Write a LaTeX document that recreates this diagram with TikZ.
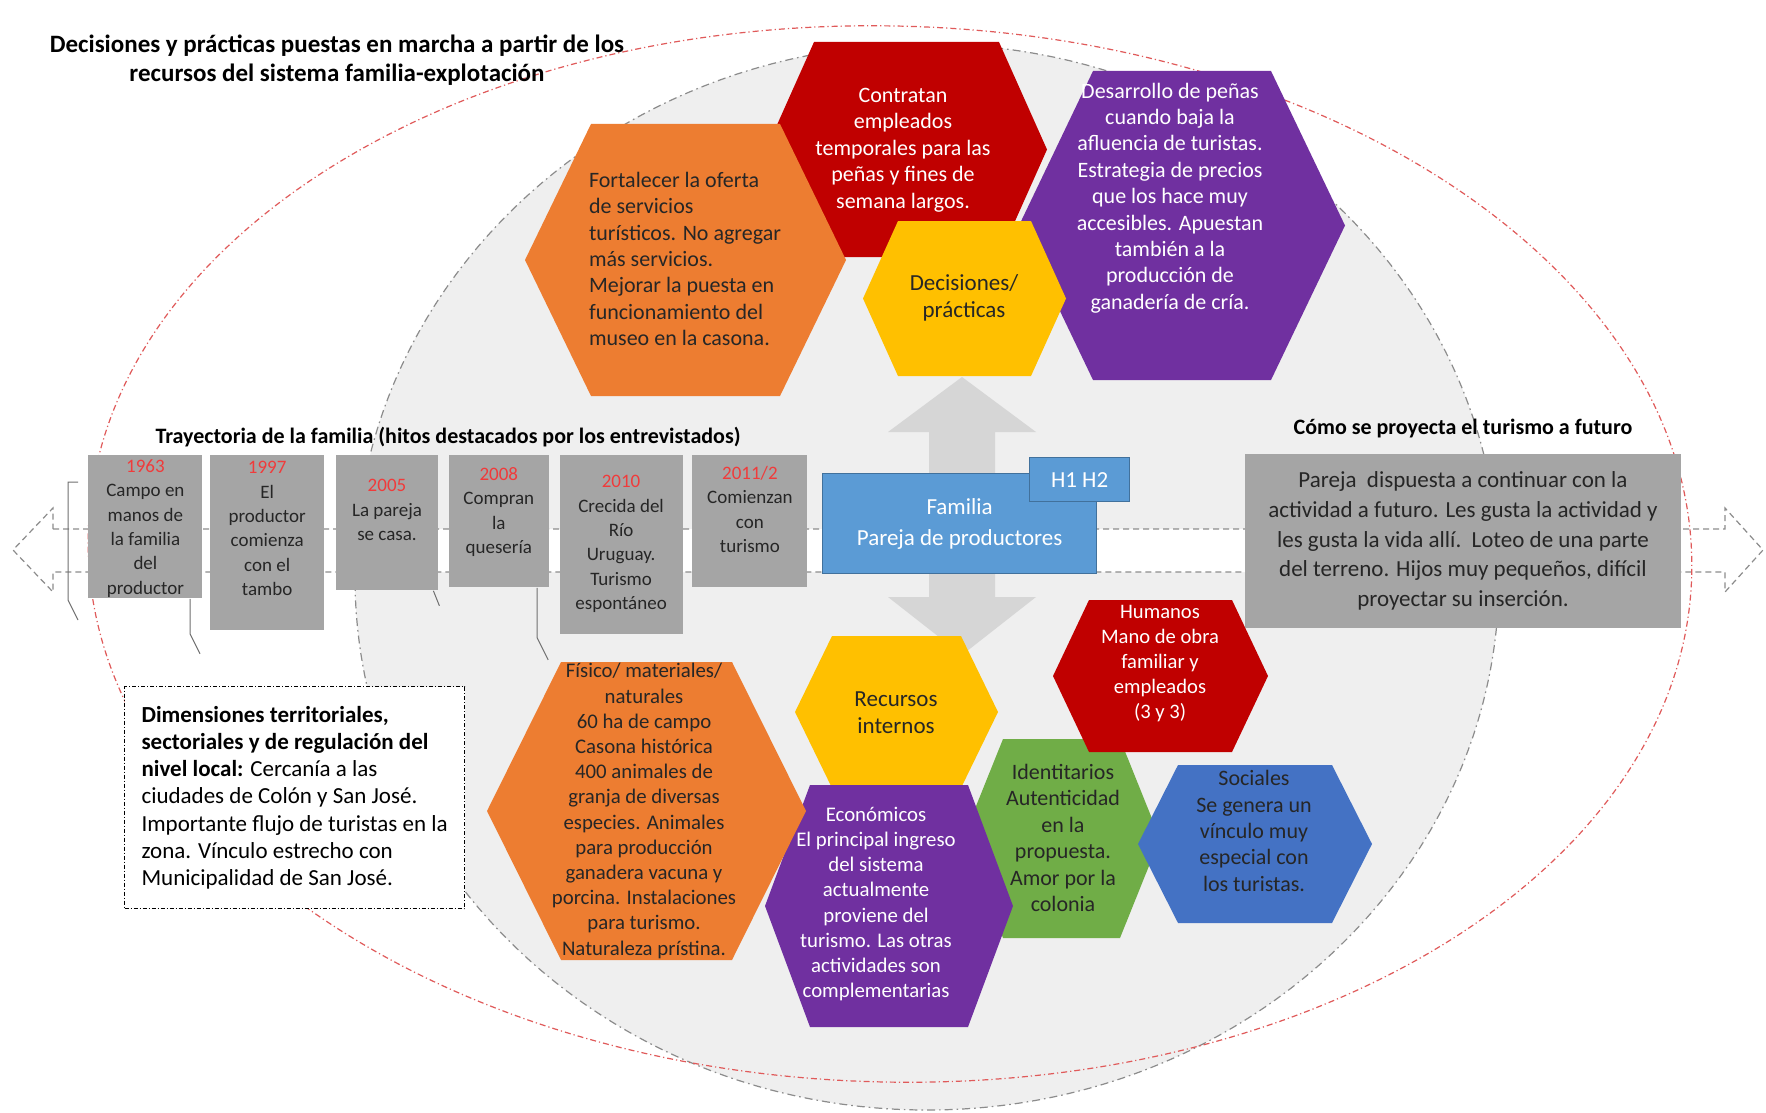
\documentclass[tikz,border=0pt]{standalone}
\usepackage{fontspec}
\setmainfont{Carlito}
\usetikzlibrary{positioning, calc}
\definecolor{cpOrange}{HTML}{ED7D31}
\definecolor{cpRed}{HTML}{C00000}
\definecolor{cpYellow}{HTML}{FFC000}
\definecolor{cpPurple}{HTML}{7030A0}
\definecolor{cpGreen}{HTML}{70AD47}
\definecolor{cpBlue}{HTML}{4472C4}
\definecolor{cpFam}{HTML}{5B9BD5}
\definecolor{cpFamEdge}{HTML}{41719C}
\definecolor{cpBox}{HTML}{A5A5A5}
\definecolor{cpInk}{HTML}{262626}
\definecolor{cpYear}{HTML}{F03B3B}
\definecolor{cpShade}{HTML}{EFEFEF}
\definecolor{cpArrow}{HTML}{D6D6D6}
\definecolor{cpRing}{HTML}{E05A5A}
\definecolor{cpLine}{HTML}{8C8C8C}
\newcommand{\tlyear}[1]{\textcolor{cpYear}{#1}}
% hexagon: centre x, centre y, half width, inset, half height, fill
\newcommand{\hexcell}[6]{%
  \fill[#6] (#1-#3,#2) -- (#1-#3+#4,#2-#5) -- (#1+#3-#4,#2-#5)
    -- (#1+#3,#2) -- (#1+#3-#4,#2+#5) -- (#1-#3+#4,#2+#5) -- cycle;
}
\begin{document}
\begin{tikzpicture}[x=0.5pt, y=-0.5pt,
  hexText/.style={align=center, inner sep=0pt, text=cpInk, font=\fontsize{11}{13.2}\selectfont},
  tlbox/.style={rectangle, fill=cpBox, inner sep=0pt, anchor=north west},
  tltext/.style={align=center, inner sep=0pt, text=cpInk, font=\fontsize{9.5}{12.2}\selectfont},
  famBox/.style={rectangle, fill=cpFam, draw=cpFamEdge, line width=0.6pt, text=white, align=center, anchor=north west, font=\fontsize{11.5}{15.5}\selectfont},
  headText/.style={inner sep=0pt, align=center, font=\bfseries\fontsize{11}{13.5}\selectfont},
  callout/.style={draw=cpLine!80!black, line width=0.5pt},
  ringRed/.style={draw=cpRing, line width=0.6pt, dash pattern=on 3pt off 1.5pt on 0.6pt off 1.5pt},
  ringGray/.style={draw=cpLine, fill=cpShade, line width=0.6pt, dash pattern=on 4pt off 2pt on 0.8pt off 2pt},
  band/.style={draw=cpLine, fill=white, line width=0.6pt, dash pattern=on 3pt off 2pt}
]
\useasboundingbox (0,0) rectangle (1766,1113);
\fill[white] (0,0) rectangle (1766,1113);

% system ellipse and arrows
\path[ringGray] (927,577) ellipse [x radius=286pt, y radius=266.5pt];
\fill[cpArrow] (962,377) -- (1036,432) -- (995,432) -- (995,597) -- (1036,597) -- (962,655)
  -- (888,597) -- (929,597) -- (929,432) -- (888,432) -- cycle;
\path[band] (53,529) -- (1725,529) -- (1725,508) -- (1763,550) -- (1725,592) -- (1725,572)
  -- (53,572) -- (53,592) -- (13,550) -- (53,508) -- cycle;
\draw[ringRed, rotate around={-1.5:(890,554)}] (890,554) ellipse [x radius=401pt, y radius=264pt];

% timeline
\node[tlbox, minimum width=57pt, minimum height=71.5pt] (b1963) at (88,455) {};
\node[tlbox, minimum width=57pt, minimum height=87.5pt, right=3.5pt of b1963.north east, anchor=north west] (b1997) {};
\node[tlbox, minimum width=51pt, minimum height=67.5pt, right=5.5pt of b1997.north east, anchor=north west] (b2005) {};
\node[tlbox, minimum width=50pt, minimum height=66pt, right=5pt of b2005.north east, anchor=north west] (b2008) {};
\node[tlbox, minimum width=61.5pt, minimum height=89.5pt, right=5pt of b2008.north east, anchor=north west] (b2010) {};
\node[tlbox, minimum width=57.5pt, minimum height=66pt, right=4.5pt of b2010.north east, anchor=north west] (b2011) {};

\node[tltext, below=2pt of b1963.north] (t1963) {\tlyear{1963}\\Campo en\\manos de\\la familia\\del\\productor};
\node[tltext, below=3pt of b1997.north] (t1997) {\tlyear{1997}\\El\\productor\\comienza\\con el\\tambo};
\node[tltext, below=12pt of b2005.north] (t2005) {\tlyear{2005}\\La pareja\\se casa.};
\node[tltext, below=6pt of b2008.north] (t2008) {\tlyear{2008}\\Compran\\la\\quesería};
\node[tltext, below=10pt of b2010.north] (t2010) {\tlyear{2010}\\Crecida del\\Río\\Uruguay.\\Turismo\\espontáneo};
\node[tltext, below=5.5pt of b2011.north] (t2011) {\tlyear{2011/2}\\Comienzan\\con\\turismo};

\draw[callout] ($(b1963.north west)+(-10,27)$) -- ++(-10,0) -- ++(0,118) -- ++(10,20);
\draw[callout] ($(b1963.south west)+(102,0)$) -- ++(0,35) -- ++(10,20);
\draw[callout] ($(b2005.south east)+(-5,0)$) -- ++(6,15);
\draw[callout] ($(b2008.south east)+(-12,0)$) -- ++(0,50) -- ++(11,22);

% decisions
\hexcell{906.5}{149.5}{140.5}{48}{107.5}{cpRed}
\hexcell{685.5}{260}{160.5}{66}{136}{cpOrange}
\hexcell{1182}{225.5}{163}{74}{154.5}{cpPurple}
\hexcell{964.5}{298.5}{101.5}{35}{77.5}{cpYellow}

\node[hexText, text=white] (contratan) at (903,150) {Contratan\\empleados\\temporales para las\\peñas y fines de\\semana largos.};
\node[hexText, align=left] (fortalecer) at (685,259) {Fortalecer la oferta\\de servicios\\turísticos. No agregar\\más servicios.\\Mejorar la puesta en\\funcionamiento del\\museo en la casona.};
\node[hexText, text=white] (desarrollo) at (1170,198) {Desarrollo de peñas\\cuando baja la\\afluencia de turistas.\\Estrategia de precios\\que los hace muy\\accesibles. Apuestan\\también a la\\producción de\\ganadería de cría.};
\node[hexText, font=\fontsize{11.5}{13.5}\selectfont] (decisiones) at (964,298) {Decisiones/\\prácticas};

% resources
\hexcell{896.5}{712}{101.5}{37}{76}{cpYellow}
\hexcell{1061.5}{838.5}{98.5}{40}{99.5}{cpGreen}
\hexcell{889}{906}{124}{45}{121}{cpPurple}
\hexcell{646.5}{811}{159.5}{74}{149}{cpOrange}
\hexcell{1160.5}{676}{107.5}{36}{76}{cpRed}
\hexcell{1255}{844}{117}{40}{79}{cpBlue}

\node[hexText, font=\fontsize{11.5}{13.5}\selectfont] (recursos) at (896,713) {Recursos\\internos};
\node[hexText, font=\fontsize{10.4}{12.6}\selectfont] (fisico) at (644,811) {Físico/ materiales/\\naturales\\60 ha de campo\\Casona histórica\\400 animales de\\granja de diversas\\especies. Animales\\para producción\\ganadera vacuna y\\porcina. Instalaciones\\para turismo.\\Naturaleza prístina.};
\node[hexText] (identitarios) at (1063,838) {Identitarios\\Autenticidad\\en la\\propuesta.\\Amor por la\\colonia};
\node[hexText, text=white, font=\fontsize{10.4}{12.6}\selectfont] (economicos) at (876,904) {Económicos\\El principal ingreso\\del sistema\\actualmente\\proviene del\\turismo. Las otras\\actividades son\\complementarias};
\node[hexText, text=white, font=\fontsize{10.3}{12.5}\selectfont] (humanos) at (1160,664) {Humanos\\Mano de obra\\familiar y\\empleados\\(3 y 3)};
\node[hexText] (sociales) at (1254,831) {Sociales\\Se genera un\\vínculo muy\\especial con\\los turistas.};

% family
\node[famBox, minimum width=137pt, minimum height=50pt] (fam) at (822,473) {Familia\\Pareja de productores};
\node[famBox, minimum width=50pt, minimum height=22pt] (hijos) at (1029,457) {H1 H2};

% future and context
\node[rectangle, fill=cpBox, text=cpInk, align=center, minimum width=218pt, minimum height=87pt,
  font=\fontsize{11.5}{14.9}\selectfont] (fut) at (1463,541)
  {Pareja\ \ dispuesta a continuar con la\\actividad a futuro. Les gusta la actividad y\\les gusta la vida allí.\ \ Loteo de una parte\\del terreno. Hijos muy pequeños, difícil\\proyectar su inserción.};
\node[headText] (futTitle) at (1463,429) {Cómo se proyecta el turismo a futuro};
\node[headText] (trayTitle) at (448,437) {Trayectoria de la familia (hitos destacados por los entrevistados)};

\node[rectangle, draw=black, fill=white, line width=0.6pt, dash pattern=on 2pt off 1pt on 0.5pt off 1pt,
  align=left, text=black, anchor=north west, minimum width=170pt, minimum height=111pt,
  font=\fontsize{11.5}{13.6}\selectfont] (dim) at (124,686)
  {\textbf{Dimensiones territoriales,}\\\textbf{sectoriales y de regulación del}\\\textbf{nivel local:} Cercanía a las\\ciudades de Colón y San José.\\Importante flujo de turistas en la\\zona. Vínculo estrecho con\\Municipalidad de San José.};

\node[headText, font=\bfseries\fontsize{12.5}{14.5}\selectfont] (title) at (337,60)
  {Decisiones y prácticas puestas en marcha a partir de los\\recursos del sistema familia-explotación};
\end{tikzpicture}
\end{document}
